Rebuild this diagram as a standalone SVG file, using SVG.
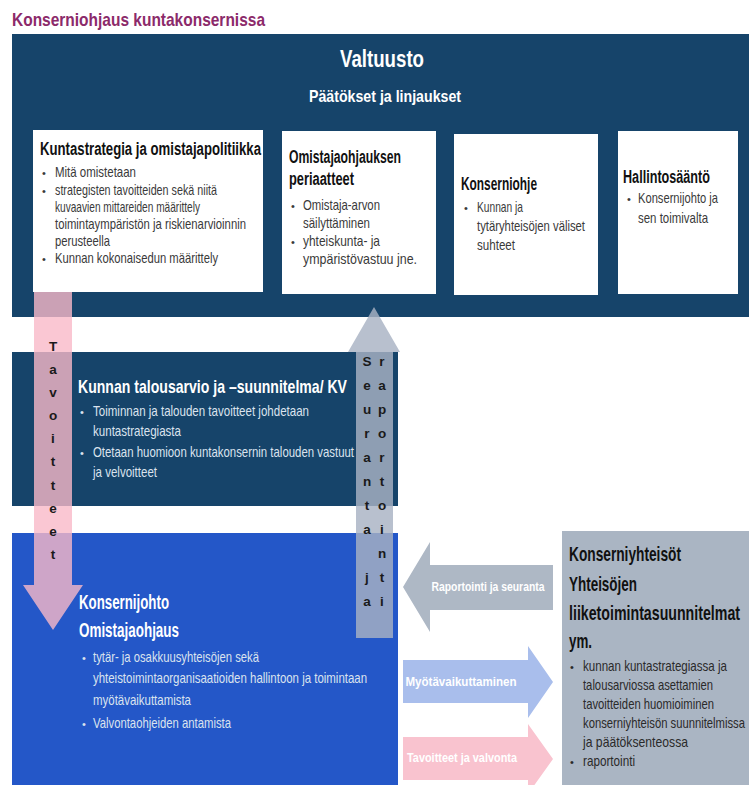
<svg xmlns="http://www.w3.org/2000/svg" width="749" height="785" viewBox="0 0 749 785">
<style>
text{font-family:"Liberation Sans Narrow","Liberation Sans",Arial,sans-serif}
.ttl{font-weight:bold;fill:#111;font-size:18px}
.bt{fill:#3a3a3a;font-size:14.5px}
.wt{font-weight:bold;fill:#fff}
.lt{fill:#dbe3ee;font-size:14.5px}
.dot{font-size:11px}
.vl{font-weight:bold;font-size:13.5px;fill:#1a1a1a;text-anchor:middle}
.al{font-weight:bold;font-size:12.5px;fill:#fff;text-anchor:middle}
.box{fill:#fff}
.navy{fill:#16446a}
</style>
<rect width="749" height="785" fill="#fff"/>
<text x="12" y="26" font-size="19" font-weight="bold" fill="#8c2a6a" textLength="253" lengthAdjust="spacingAndGlyphs">Konserniohjaus kuntakonsernissa</text>

<g id="valtuusto">
<rect class="navy" x="12" y="34" width="737" height="283"/>
<text class="wt" x="340" y="67" font-size="23" textLength="84" lengthAdjust="spacingAndGlyphs">Valtuusto</text>
<text class="wt" x="309" y="102" font-size="17" textLength="152" lengthAdjust="spacingAndGlyphs">Päätökset ja linjaukset</text>
</g>

<g id="kuntastrategia">
<rect class="box" x="33" y="130" width="230" height="162"/>
<text class="ttl" x="40" y="155" textLength="221" lengthAdjust="spacingAndGlyphs">Kuntastrategia ja omistajapolitiikka</text>
<g class="bt">
<text class="dot" x="42" y="177">•</text>
<text x="55" y="177" textLength="81" lengthAdjust="spacingAndGlyphs">Mitä omistetaan</text>
<text class="dot" x="42" y="195">•</text>
<text x="55" y="195" textLength="162" lengthAdjust="spacingAndGlyphs">strategisten tavoitteiden sekä niitä</text>
<text x="55" y="212" textLength="145" lengthAdjust="spacingAndGlyphs">kuvaavien mittareiden määrittely</text>
<text x="55" y="229" textLength="191" lengthAdjust="spacingAndGlyphs">toimintaympäristön ja riskienarvioinnin</text>
<text x="55" y="246" textLength="55" lengthAdjust="spacingAndGlyphs">perusteella</text>
<text class="dot" x="42" y="263">•</text>
<text x="55" y="263" textLength="163" lengthAdjust="spacingAndGlyphs">Kunnan kokonaisedun määrittely</text>
</g>
</g>

<g id="omistajaohjauksen-periaatteet">
<rect class="box" x="282" y="131" width="154" height="163"/>
<text class="ttl" x="289" y="163" textLength="112" lengthAdjust="spacingAndGlyphs">Omistajaohjauksen</text>
<text class="ttl" x="289" y="185" textLength="65" lengthAdjust="spacingAndGlyphs">periaatteet</text>
<g class="bt">
<text class="dot" x="291" y="210">•</text>
<text x="303" y="210" textLength="77" lengthAdjust="spacingAndGlyphs">Omistaja-arvon</text>
<text x="303" y="228" textLength="67" lengthAdjust="spacingAndGlyphs">säilyttäminen</text>
<text class="dot" x="291" y="246">•</text>
<text x="303" y="246" textLength="77" lengthAdjust="spacingAndGlyphs">yhteiskunta- ja</text>
<text x="303" y="264" textLength="114" lengthAdjust="spacingAndGlyphs">ympäristövastuu jne.</text>
</g>
</g>

<g id="konserniohje">
<rect class="box" x="454" y="134" width="144" height="161"/>
<text class="ttl" x="461" y="190" textLength="76" lengthAdjust="spacingAndGlyphs">Konserniohje</text>
<g class="bt">
<text class="dot" x="464" y="212">•</text>
<text x="477" y="212" textLength="46" lengthAdjust="spacingAndGlyphs">Kunnan ja</text>
<text x="477" y="231" textLength="108" lengthAdjust="spacingAndGlyphs">tytäryhteisöjen väliset</text>
<text x="477" y="250" textLength="38" lengthAdjust="spacingAndGlyphs">suhteet</text>
</g>
</g>

<g id="hallintosaanto">
<rect class="box" x="618" y="131" width="120" height="163"/>
<text class="ttl" x="623" y="183" textLength="87" lengthAdjust="spacingAndGlyphs">Hallintosääntö</text>
<g class="bt">
<text class="dot" x="627" y="203">•</text>
<text x="638" y="203" textLength="80" lengthAdjust="spacingAndGlyphs">Konsernijohto ja</text>
<text x="638" y="223" textLength="70" lengthAdjust="spacingAndGlyphs">sen toimivalta</text>
</g>
</g>

<g id="talousarvio">
<rect class="navy" x="12" y="352" width="386" height="154"/>
<text class="wt" x="78" y="393" font-size="19" textLength="269" lengthAdjust="spacingAndGlyphs">Kunnan talousarvio ja –suunnitelma/ KV</text>
<g class="lt">
<text class="dot" x="80" y="416">•</text>
<text x="93" y="416" textLength="216" lengthAdjust="spacingAndGlyphs">Toiminnan ja talouden tavoitteet johdetaan</text>
<text x="93" y="436" textLength="88" lengthAdjust="spacingAndGlyphs">kuntastrategiasta</text>
<text class="dot" x="80" y="457">•</text>
<text x="93" y="457" textLength="261" lengthAdjust="spacingAndGlyphs">Otetaan huomioon kuntakonsernin talouden vastuut</text>
<text x="93" y="477" textLength="64" lengthAdjust="spacingAndGlyphs">ja velvoitteet</text>
</g>
</g>

<g id="konsernijohto">
<rect x="12" y="533" width="386" height="252" fill="#2457c8"/>
<text class="wt" x="79" y="609" font-size="20" textLength="90" lengthAdjust="spacingAndGlyphs">Konsernijohto</text>
<text class="wt" x="79" y="637" font-size="20" textLength="100" lengthAdjust="spacingAndGlyphs">Omistajaohjaus</text>
<g class="lt">
<text class="dot" x="82" y="662">•</text>
<text x="93" y="662" textLength="166" lengthAdjust="spacingAndGlyphs">tytär- ja osakkuusyhteisöjen sekä</text>
<text x="93" y="683" textLength="274" lengthAdjust="spacingAndGlyphs">yhteistoimintaorganisaatioiden hallintoon ja toimintaan</text>
<text x="93" y="705" textLength="98" lengthAdjust="spacingAndGlyphs">myötävaikuttamista</text>
<text class="dot" x="82" y="728">•</text>
<text x="93" y="728" textLength="138" lengthAdjust="spacingAndGlyphs">Valvontaohjeiden antamista</text>
</g>
</g>

<g id="konserniyhteisot">
<rect x="562" y="531" width="187" height="254" fill="#aab5c3"/>
<g class="ttl" font-size="21" style="font-size:21px">
<text x="569" y="561" textLength="112" lengthAdjust="spacingAndGlyphs">Konserniyhteisöt</text>
<text x="569" y="591" textLength="68" lengthAdjust="spacingAndGlyphs">Yhteisöjen</text>
<text x="569" y="620" textLength="171" lengthAdjust="spacingAndGlyphs">liiketoimintasuunnitelmat</text>
<text x="569" y="648" textLength="23" lengthAdjust="spacingAndGlyphs">ym.</text>
</g>
<g class="bt" style="fill:#2a2a2a">
<text class="dot" x="570" y="671">•</text>
<text x="583" y="671" textLength="144" lengthAdjust="spacingAndGlyphs">kunnan kuntastrategiassa ja</text>
<text x="583" y="690" textLength="130" lengthAdjust="spacingAndGlyphs">talousarviossa asettamien</text>
<text x="583" y="709" textLength="131" lengthAdjust="spacingAndGlyphs">tavoitteiden huomioiminen</text>
<text x="583" y="728" textLength="162" lengthAdjust="spacingAndGlyphs">konserniyhteisön suunnitelmissa</text>
<text x="583" y="747" textLength="105" lengthAdjust="spacingAndGlyphs">ja päätöksenteossa</text>
<text class="dot" x="570" y="766">•</text>
<text x="583" y="766" textLength="52" lengthAdjust="spacingAndGlyphs">raportointi</text>
</g>
</g>

<g id="connectors">
<polygon points="34,292 72,292 72,585 83,585 53,630 23,585 34,585" fill="#f9b9c8" fill-opacity="0.8"/>
<g class="vl">
<text x="53" y="351">T</text><text x="53" y="374">a</text><text x="53" y="397">v</text><text x="53" y="420">o</text><text x="53" y="443">i</text><text x="53" y="466">t</text><text x="53" y="490">t</text><text x="53" y="513">e</text><text x="53" y="536">e</text><text x="53" y="559">t</text>
</g>
<polygon points="356,638 393,638 393,352 400,352 374,307 348,352 356,352" fill="#a8b2c3" fill-opacity="0.82"/>
<g class="vl">
<text x="367" y="366">S</text><text x="367" y="390">e</text><text x="367" y="414">u</text><text x="367" y="438">r</text><text x="367" y="462">a</text><text x="367" y="486">n</text><text x="367" y="510">t</text><text x="367" y="534">a</text><text x="367" y="582">j</text><text x="367" y="606">a</text>
<text x="382" y="366">r</text><text x="382" y="390">a</text><text x="382" y="414">p</text><text x="382" y="438">o</text><text x="382" y="462">r</text><text x="382" y="486">t</text><text x="382" y="510">o</text><text x="382" y="534">i</text><text x="382" y="558">n</text><text x="382" y="582">t</text><text x="382" y="606">i</text>
</g>
<polygon points="403,587 430,542 430,565 553,565 553,610 430,610 430,632" fill="#aeb8c5"/>
<text class="al" x="488" y="591" textLength="113" lengthAdjust="spacingAndGlyphs">Raportointi ja seuranta</text>
<polygon points="403,660 528,660 528,646 553,682 528,718 528,703 403,703" fill="#a9beec"/>
<text class="al" x="461" y="686" textLength="111" lengthAdjust="spacingAndGlyphs">Myötävaikuttaminen</text>
<polygon points="403,737 528,737 528,724 553,759 528,794 528,780 403,780" fill="#f9c3cf"/>
<text class="al" x="462" y="762" textLength="110" lengthAdjust="spacingAndGlyphs">Tavoitteet ja valvonta</text>
</g>
</svg>
